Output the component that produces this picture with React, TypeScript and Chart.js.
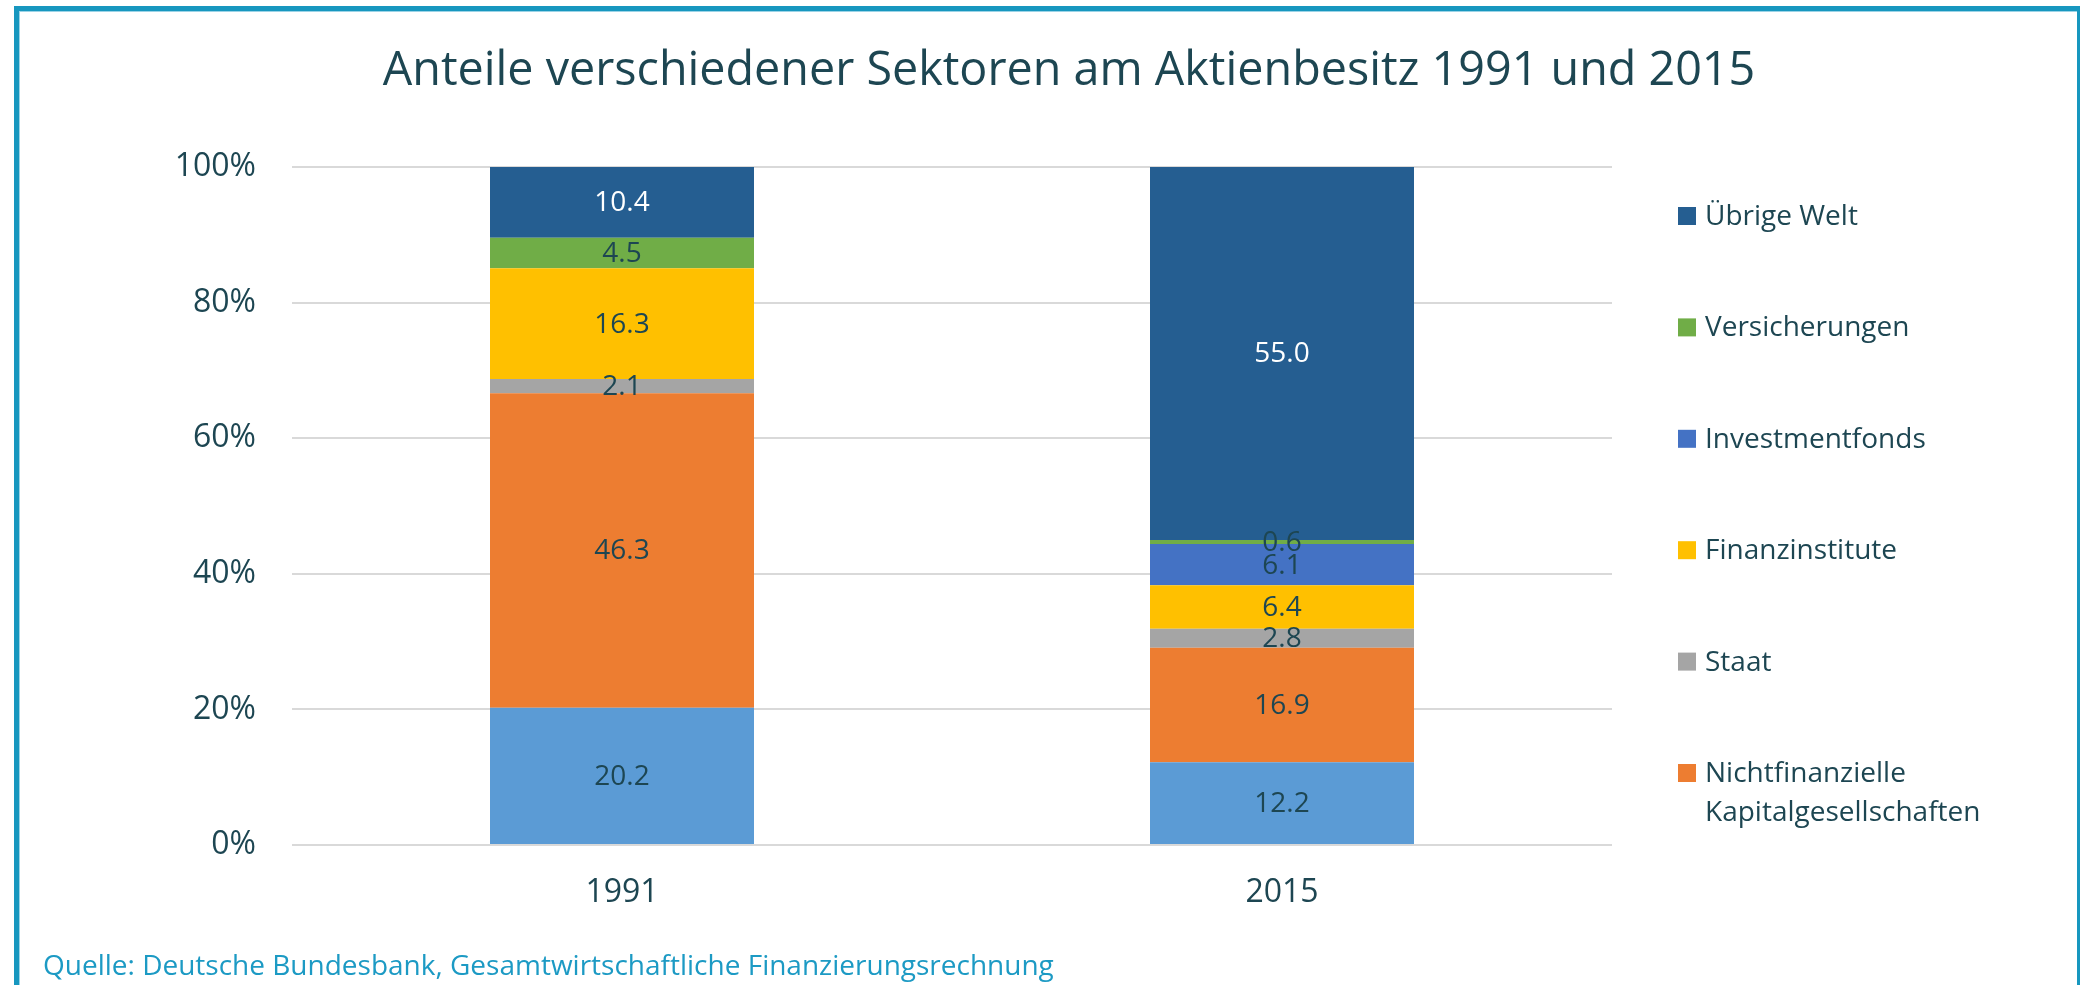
import React, { useEffect, useRef } from "react";
import { Chart, registerables } from "chart.js";

Chart.register(...registerables);

// ---- Data ----
const categories = ["1991", "2015"];
const privateHaushalte = [20.2, 12.2];
const nichtfinanzielle = [46.3, 16.9];
const staat = [2.1, 2.8];
const finanzinstitute = [16.3, 6.4];
const investmentfonds = [null, 6.1];
const versicherungen = [4.5, 0.6];
const uebrigeWelt = [10.4, 55.0];
const yTickValues = [0, 20, 40, 60, 80, 100];

const titleText = "Anteile verschiedener Sektoren am Aktienbesitz 1991 und 2015";
const sourceText = "Quelle: Deutsche Bundesbank, Gesamtwirtschaftliche Finanzierungsrechnung";

const TEXT = "#1D4652";
const FRAME = "#1797BF";
const FONT = '"Open Sans", "Noto Sans", sans-serif';

type Series = { label: string; values: (number | null)[]; color: string; labelColor: string; legendLabel: string[] | null };

const series: Series[] = [
  { label: "Private Haushalte", values: privateHaushalte, color: "#5B9BD5", labelColor: TEXT, legendLabel: null },
  { label: "Nichtfinanzielle Kapitalgesellschaften", values: nichtfinanzielle, color: "#ED7D31", labelColor: TEXT, legendLabel: ["Nichtfinanzielle", "Kapitalgesellschaften"] },
  { label: "Staat", values: staat, color: "#A5A5A5", labelColor: TEXT, legendLabel: ["Staat"] },
  { label: "Finanzinstitute", values: finanzinstitute, color: "#FFC000", labelColor: TEXT, legendLabel: ["Finanzinstitute"] },
  { label: "Investmentfonds", values: investmentfonds, color: "#4472C4", labelColor: TEXT, legendLabel: ["Investmentfonds"] },
  { label: "Versicherungen", values: versicherungen, color: "#70AD47", labelColor: TEXT, legendLabel: ["Versicherungen"] },
  { label: "Übrige Welt", values: uebrigeWelt, color: "#255E91", labelColor: "#FFFFFF", legendLabel: ["Übrige Welt"] },
];

// column totals for 100% stacking
const totals = categories.map((_, i) => series.reduce((s, d) => s + (d.values[i] ?? 0), 0));

const framePlugin = {
  id: "frame",
  beforeDraw(chart: any) {
    const ctx = chart.ctx;
    ctx.save();
    ctx.fillStyle = "#FFFFFF";
    ctx.fillRect(0, 0, chart.width, chart.height);
    ctx.fillStyle = FRAME;
    ctx.fillRect(14, 6, chart.width - 14, 5);
    ctx.fillRect(14, 6, 5, chart.height - 6);
    ctx.fillRect(chart.width - 3, 6, 3, chart.height - 6);
    ctx.fillStyle = "#9BD3E6";
    ctx.fillRect(19, 11, chart.width - 22, 1);
    ctx.fillRect(19, 11, 1, chart.height - 11);
    // title
    ctx.fillStyle = TEXT;
    ctx.font = `46.7px ${FONT}`;
    ctx.textAlign = "center";
    ctx.textBaseline = "alphabetic";
    ctx.fillText(titleText, 1069, 85);
    // source
    ctx.fillStyle = "#1C9AC4";
    ctx.font = `28px ${FONT}`;
    ctx.textAlign = "left";
    ctx.fillText(sourceText, 43, 975);
    ctx.restore();
  },
};

const labelsPlugin = {
  id: "segLabels",
  afterDatasetsDraw(chart: any) {
    const ctx = chart.ctx;
    ctx.save();
    ctx.font = `28px ${FONT}`;
    ctx.textAlign = "center";
    ctx.textBaseline = "middle";
    chart.data.datasets.forEach((ds: any, di: number) => {
      const meta = chart.getDatasetMeta(di);
      meta.data.forEach((bar: any, i: number) => {
        const raw = series[di].values[i];
        if (raw === null || raw === undefined) return;
        const p = bar.getProps(["x", "y", "base"], true);
        ctx.fillStyle = series[di].labelColor;
        ctx.fillText(raw.toFixed(1), p.x, (p.y + p.base) / 2 + 1);
      });
    });
    ctx.restore();
  },
};

const legendPlugin = {
  id: "customLegend",
  afterDraw(chart: any) {
    const ctx = chart.ctx;
    ctx.save();
    ctx.font = `28px ${FONT}`;
    ctx.textAlign = "left";
    ctx.textBaseline = "middle";
    const items = series.filter((s) => s.legendLabel).slice().reverse();
    items.forEach((s, i) => {
      const cy = 216 + i * 111.4;
      ctx.fillStyle = s.color;
      ctx.fillRect(1678, cy - 9, 18, 18);
      ctx.fillStyle = TEXT;
      (s.legendLabel as string[]).forEach((line, li) => {
        ctx.fillText(line, 1705, cy + li * 39 + 1);
      });
    });
    ctx.restore();
  },
};

export default function App() {
  const ref = useRef<HTMLCanvasElement>(null);
  useEffect(() => {
    if (!ref.current) return;
    const chart = new Chart(ref.current, {
      type: "bar",
      data: {
        labels: categories,
        datasets: series.map((s) => ({
          label: s.label,
          data: s.values.map((v, i) => (v === null ? null : (v / totals[i]) * 100)),
          backgroundColor: s.color,
          borderWidth: 0,
          barPercentage: 0.4,
          categoryPercentage: 1.0,
        })),
      },
      options: {
        responsive: false,
        animation: false,
        devicePixelRatio: 1,
        layout: { padding: { top: 167, right: 468, left: 0, bottom: 0 } },
        plugins: { legend: { display: false }, tooltip: { enabled: false }, title: { display: false } },
        scales: {
          x: {
            stacked: true,
            grid: { display: false, drawTicks: false },
            border: { display: false },
            ticks: { color: TEXT, font: { family: FONT, size: 32 }, padding: 29 },
            afterFit(scale: any) {
              scale.height = 140;
            },
          },
          y: {
            stacked: true,
            min: 0,
            max: 100,
            afterBuildTicks(scale: any) {
              scale.ticks = yTickValues.map((v) => ({ value: v }));
            },
            grid: { color: "#D9D9D9", lineWidth: 2, drawTicks: false },
            border: { display: false },
            ticks: {
              color: TEXT,
              font: { family: FONT, size: 32 },
              padding: 36,
              callback: (v: any) => `${v}%`,
            },
            afterFit(scale: any) {
              scale.width = 292;
            },
          },
        },
      },
      plugins: [framePlugin, labelsPlugin, legendPlugin],
    });
    return () => chart.destroy();
  }, []);
  return (
    <div style={{ position: "absolute", left: 0, top: 0, width: 2080, height: 985 }}>
      <canvas ref={ref} width={2080} height={985} style={{ display: "block" }} />
    </div>
  );
}
